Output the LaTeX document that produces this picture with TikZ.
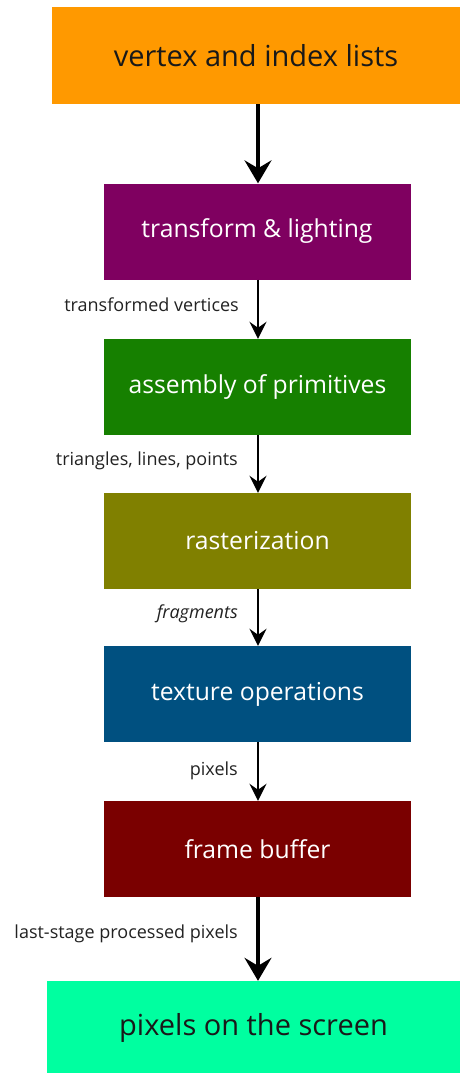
\documentclass[tikz,border=0pt]{standalone}
\usepackage{fontspec}
\setmainfont{Open Sans}
\usetikzlibrary{arrows.meta}
\definecolor{corange}{RGB}{255,153,0}
\definecolor{cpurple}{RGB}{127,0,96}
\definecolor{cgreen}{RGB}{22,128,0}
\definecolor{colive}{RGB}{128,128,0}
\definecolor{cblue}{RGB}{0,80,128}
\definecolor{cred}{RGB}{122,0,0}
\definecolor{ccyan}{RGB}{0,255,160}
\definecolor{ctext}{RGB}{34,34,34}
\tikzset{
  x=1pt,y=1pt,
  stagebox/.style={rectangle, inner sep=0pt, minimum width=307pt, minimum height=96pt, text=white, font=\fontsize{24.7}{29}\selectfont},
  endbox/.style={rectangle, inner sep=0pt, text=black!90, font=\fontsize{29}{34}\selectfont},
  flowlabel/.style={anchor=east, inner sep=0pt, text=ctext, font=\fontsize{18}{21}\selectfont},
  thinarrow/.style={-{Stealth[length=17pt,width=17pt,inset=6pt]}, line width=2.3pt},
  thickarrow/.style={-{Stealth[length=23pt,width=27pt,inset=8pt]}, line width=3.2pt},
}
\begin{document}
\begin{tikzpicture}
\useasboundingbox (0,0) rectangle (460,-1073);
\node[endbox, fill=corange, minimum width=408pt, minimum height=97pt] (vil) at (256,-55.5) {vertex and index lists};
\node[stagebox, fill=cpurple] (tl) at (257,-231.5) {transform \& lighting};
\node[stagebox, fill=cgreen] (ap) at (257.5,-387) {assembly of primitives};
\node[stagebox, fill=colive] (ra) at (257.5,-541) {rasterization};
\node[stagebox, fill=cblue] (to) at (257.5,-694) {texture operations};
\node[stagebox, fill=cred] (fb) at (257.5,-849) {frame buffer};
\node[endbox, fill=ccyan, minimum width=413pt, minimum height=94pt] (ps) at (253.5,-1028) {pixels on the screen};
\draw[thickarrow] (vil.south -| 258,0) -- (tl.north -| 258,0);
\draw[thinarrow] (tl.south -| 258,0) -- (ap.north -| 258,0);
\draw[thinarrow] (ap.south -| 258,0) -- (ra.north -| 258,0);
\draw[thinarrow] (ra.south -| 258,0) -- (to.north -| 258,0);
\draw[thinarrow] (to.south -| 258,0) -- (fb.north -| 258,0);
\draw[thickarrow] (fb.south -| 258,0) -- (ps.north -| 258,0);
\node[flowlabel] (l1) at (239,-305) {transformed vertices};
\node[flowlabel] (l2) at (238,-461) {triangles, lines, points};
\node[flowlabel] (l3) at (238,-614) {\itshape fragments};
\node[flowlabel] (l4) at (238,-771) {pixels};
\node[flowlabel] (l5) at (238,-934) {last-stage processed pixels};
\end{tikzpicture}
\end{document}
